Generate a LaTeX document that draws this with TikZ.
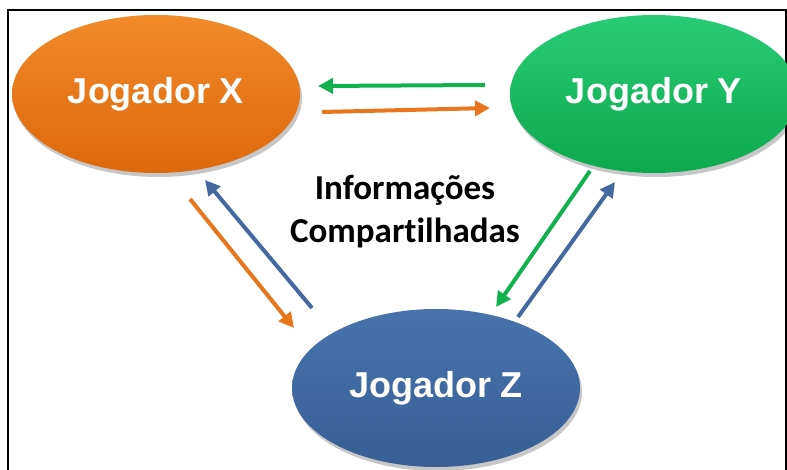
\documentclass[tikz,border=0pt]{standalone}
\usepackage{fontspec}
\setmainfont{Liberation Sans}
\newfontfamily\calib[Ligatures=NoCommon]{Carlito}
\usetikzlibrary{shapes.geometric,arrows.meta,shadows}
\definecolor{orgmain}{HTML}{E26B0C}
\definecolor{orglight}{HTML}{F28A2A}
\definecolor{orgdark}{HTML}{DD680C}
\definecolor{grnmain}{HTML}{0AAE52}
\definecolor{grnlight}{HTML}{28CC75}
\definecolor{grndark}{HTML}{0CA84E}
\definecolor{blumain}{HTML}{39639A}
\definecolor{blulight}{HTML}{4873AC}
\definecolor{bludark}{HTML}{375F96}
\definecolor{arrorg}{HTML}{E8761C}
\definecolor{arrgrn}{HTML}{12B14F}
\definecolor{arrblu}{HTML}{44699E}
\tikzset{
  player/.style={ellipse, minimum width=288pt, minimum height=158pt, inner sep=0pt,
    text=white, font=\fontsize{36}{40}\selectfont\bfseries,
    drop shadow={shadow xshift=2pt, shadow yshift=-4pt, fill=black, opacity=0.22}},
  flow/.style={line width=4pt, -{Triangle[length=15pt,width=15pt]}},
}
\begin{document}
\begin{tikzpicture}[x=1pt,y=-1pt]
\useasboundingbox (0,0) rectangle (787,470);
\fill[white] (0,0) rectangle (787,470);
\draw[line width=2.5pt] (8,472) -- (8,10) -- (786,10) -- (786,472);

\node[player, top color=orglight, middle color=orgmain, bottom color=orgdark] (X) at (156,94) {Jogador X};
\node[player, top color=grnlight, middle color=grnmain, bottom color=grndark] (Y) at (654,94) {Jogador Y};
\node[player, top color=blulight, middle color=blumain, bottom color=bludark] (Z) at (436,388) {Jogador Z};

\node[font=\calib\fontsize{35}{43}\selectfont\bfseries, align=center] (info) at (405,212) {Informações\\Compart\kern0pt ilhadas};

\coordinate (g1s) at (485,85);  \coordinate (g1e) at (318,86);
\coordinate (o1s) at (322,112); \coordinate (o1e) at (490,108);
\coordinate (b1s) at (312,308); \coordinate (b1e) at (205,180);
\coordinate (o2s) at (190,199); \coordinate (o2e) at (294,328);
\coordinate (g2s) at (590,171); \coordinate (g2e) at (496,307);
\coordinate (b2s) at (518,317); \coordinate (b2e) at (615,182);

\draw[flow, arrgrn] (g1s) -- (g1e);
\draw[flow, arrorg] (o1s) -- (o1e);
\draw[flow, arrblu] (b1s) -- (b1e);
\draw[flow, arrorg] (o2s) -- (o2e);
\draw[flow, arrgrn] (g2s) -- (g2e);
\draw[flow, arrblu] (b2s) -- (b2e);
\end{tikzpicture}
\end{document}
